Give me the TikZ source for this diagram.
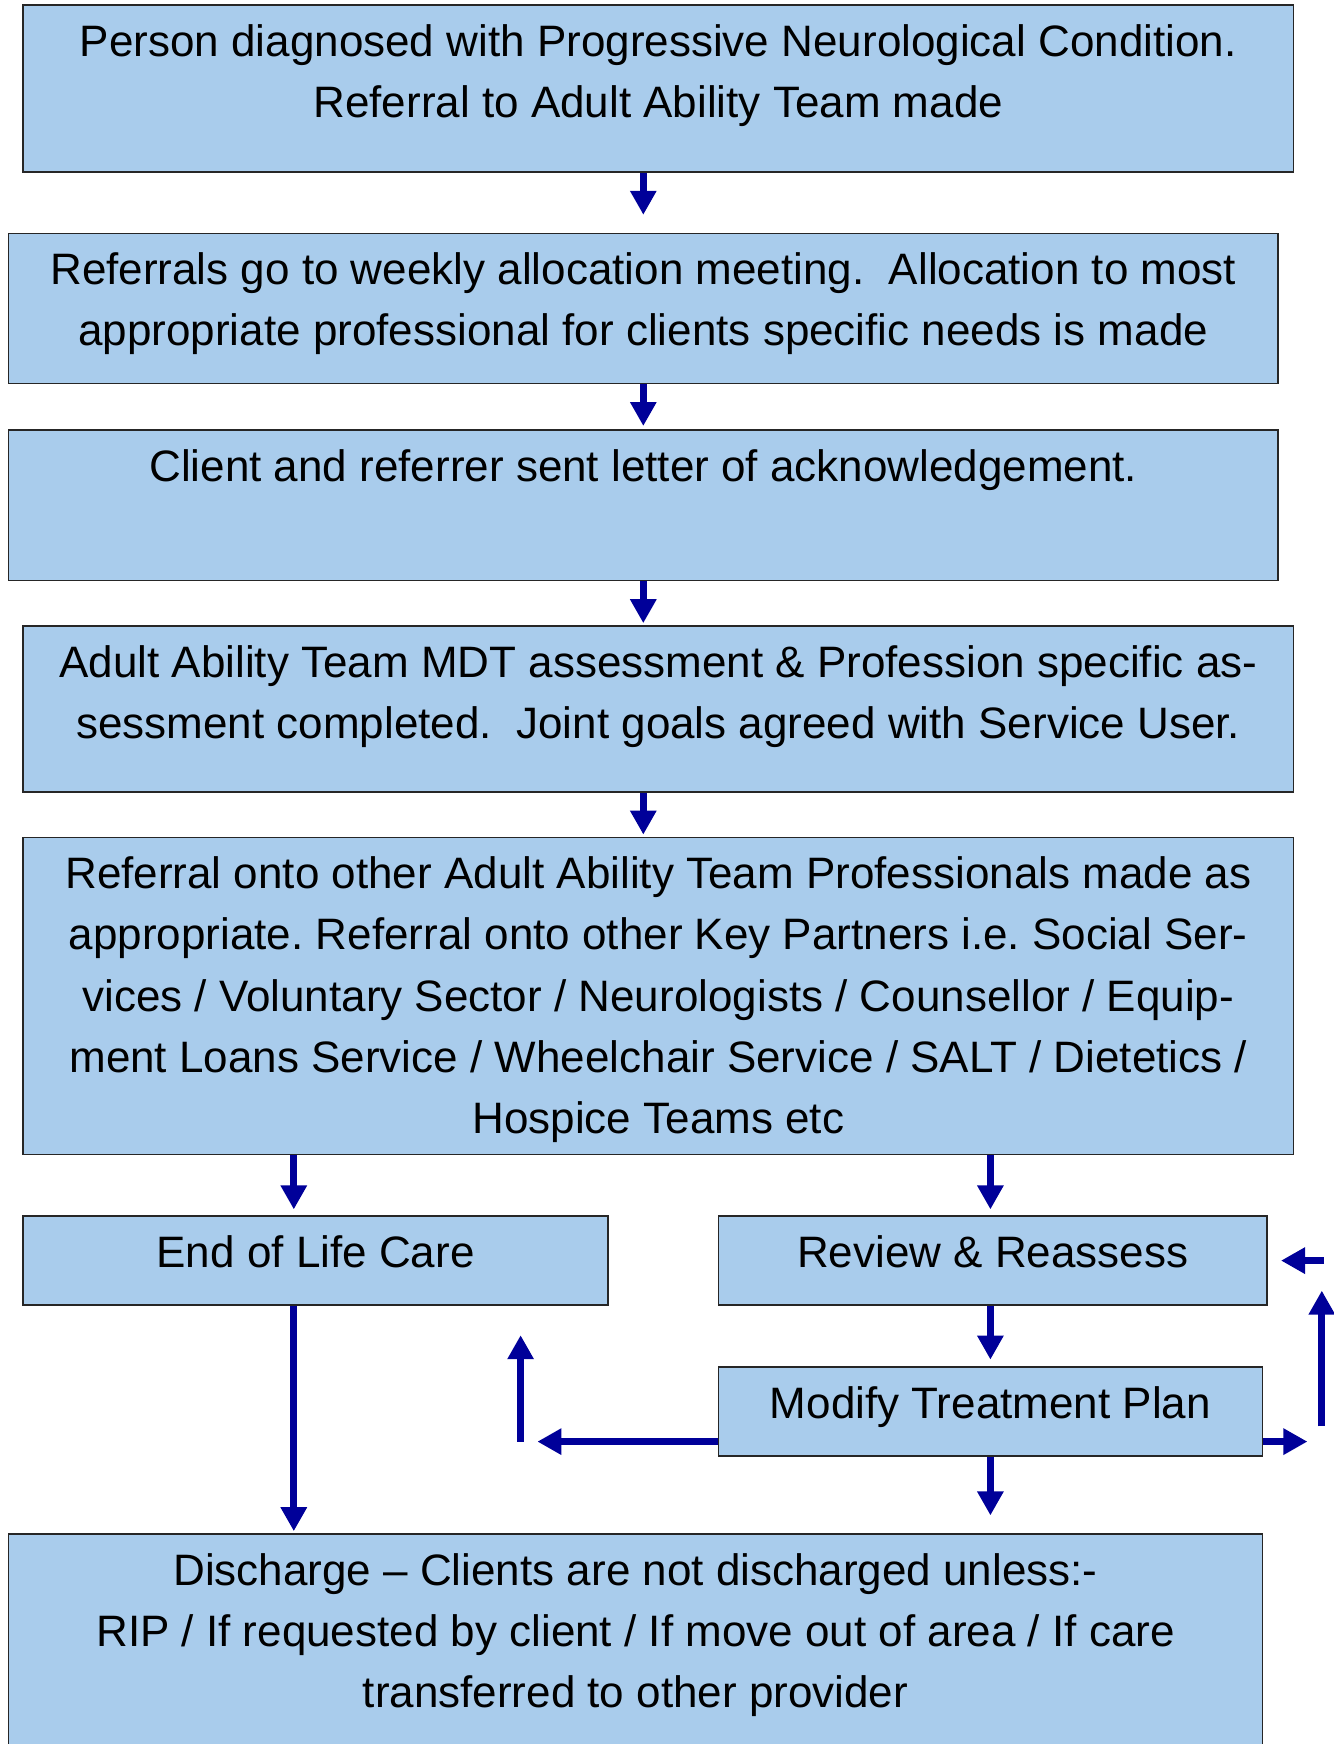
\documentclass[tikz,border=0pt]{standalone}
\usepackage{fontspec}
\setmainfont{Liberation Sans}
\usepackage{xcolor}
\usepackage{tikz}
\usetikzlibrary{arrows.meta}

\definecolor{boxblue}{RGB}{169,204,236}
\definecolor{flowblue}{RGB}{0,0,153}

\frenchspacing
\newcommand{\boxtxt}[3]{\parbox[c][#2][t]{#1}{\centering\fontsize{22}{30.6}\selectfont\rule{0pt}{25.6pt}#3}}

\tikzset{
    stagebox/.style={draw=black!85, line width=0.8pt, fill=boxblue, inner sep=0pt, anchor=north west},
    flow/.style={draw=flowblue, line width=3.5pt, -{Triangle[width=12.5pt,length=12pt]}}
}

\begin{document}
\begin{tikzpicture}[x=1pt,y=-1pt]
        \useasboundingbox (0,0) rectangle (666.5,872);

        \node[stagebox] (diag) at (11.1,2.2) {\boxtxt{635.3pt}{83.5pt}{Person diagnosed with Progressive Neurological Condition.\\ Referral to Adult Ability Team made}};
        \node[stagebox] (alloc) at (3.9,116.3) {\boxtxt{634.7pt}{75.1pt}{Referrals go to weekly allocation meeting.\ \ Allocation to most\\ appropriate professional for clients specific needs is made}};
        \node[stagebox] (letter) at (3.9,214.7) {\boxtxt{634.7pt}{75.1pt}{Client and referrer sent letter of acknowledgement.}};
        \node[stagebox] (mdt) at (11.1,312.6) {\boxtxt{635.3pt}{82.9pt}{Adult Ability Team MDT assessment \& Profession specific as-\\ sessment completed.\ \ Joint goals agreed with Service User.}};
        \node[stagebox] (onward) at (11.1,418.3) {\boxtxt{635.3pt}{158.6pt}{Referral onto other Adult Ability Team Professionals made as\\ appropriate. Referral onto other Key Partners i.e. Social Ser-\\ vices / Voluntary Sector / Neurologists / Counsellor / Equip-\\ ment Loans Service / Wheelchair Service / SALT / Dietetics /\\ Hospice Teams etc}};
        \node[stagebox] (eol) at (11.1,607.5) {\boxtxt{292.6pt}{44.5pt}{End of Life Care}};
        \node[stagebox] (review) at (358.8,607.5) {\boxtxt{274.3pt}{44.5pt}{Review \& Reassess}};
        \node[stagebox] (modify) at (358.8,683.1) {\boxtxt{272.0pt}{44.5pt}{Modify Treatment Plan}};
        \node[stagebox] (discharge) at (3.9,766.6) {\boxtxt{626.9pt}{105.5pt}{Discharge -- Clients are not discharged unless:-\\ RIP / If requested by client / If move out of area / If care\\ transferred to other provider}};

        % main flow
        \draw[flow, shorten >=8.9pt] (diag.south -| alloc.north) -- (alloc.north);
        \draw[flow, shorten >=1.7pt] (alloc) -- (letter);
        \draw[flow, shorten >=1pt] (letter.south) -- (letter.south |- mdt.north);
        \draw[flow, shorten >=1pt] (mdt.south -| letter.south) -- (letter.south |- onward.north);

        \coordinate (eolx) at (146.9,0);
        \draw[flow, shorten >=2.8pt] (onward.south -| eolx) -- (eol.north -| eolx);
        \draw[flow, shorten >=2.8pt] (onward.south -| modify.north) -- (modify.north |- review.north);
        \draw[flow, shorten >=1pt] (eol.south -| eolx) -- (discharge.north -| eolx);
        \draw[flow, shorten >=3.3pt] (review.south -| modify.north) -- (modify.north);
        \draw[flow, shorten >=8.9pt] (modify.south) -- (modify.south |- discharge.north);

        % review loop
        \coordinate (backL) at (268.7,720.8);
        \coordinate (upL0) at (260.3,720.8);
        \coordinate (upL1) at (260.3,667.6);
        \coordinate (backR) at (653.7,720.8);
        \coordinate (upR0) at (660.9,713.2);
        \coordinate (upR1) at (660.9,645.3);
        \coordinate (inR) at (662,630.3);
        \draw[flow] (modify.west |- backL) -- (backL);
        \draw[flow] (upL0) -- (upL1);
        \draw[flow] (modify.east |- backR) -- (backR);
        \draw[flow] (upR0) -- (upR1);
        \draw[flow, shorten >=6.6pt] (inR) -- (review.east |- inR);
\end{tikzpicture}
\end{document}
